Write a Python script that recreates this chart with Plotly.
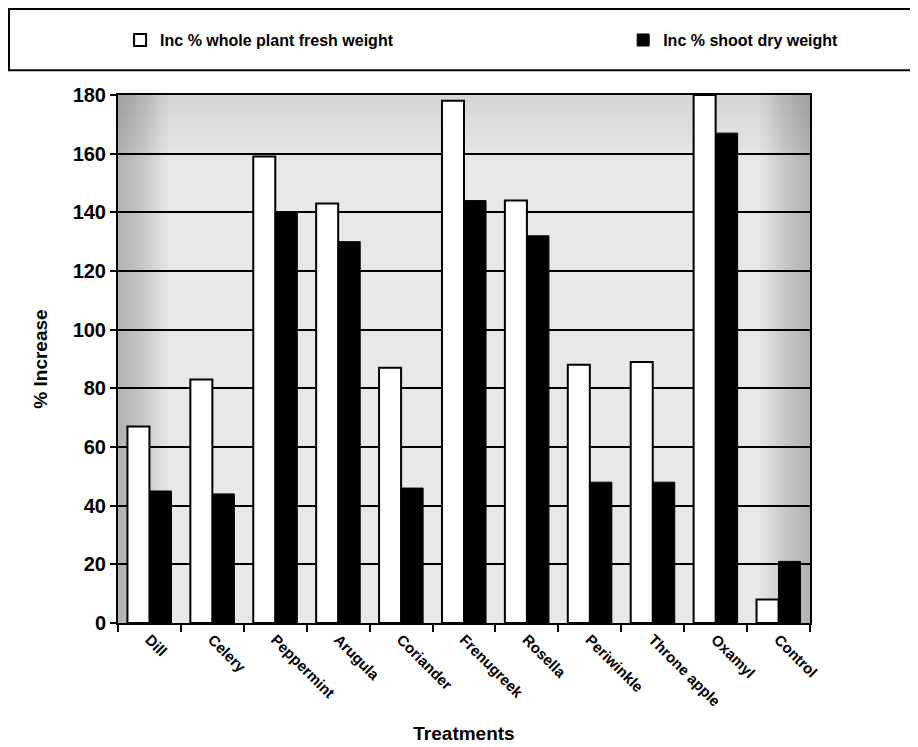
import plotly.graph_objects as go

categories = ["Dill", "Celery", "Peppermint", "Arugula", "Coriander", "Frenugreek",
              "Rosella", "Periwinkle", "Throne apple", "Oxamyl", "Control"]
fresh_weight = [67, 83, 159, 143, 87, 178, 144, 88, 89, 180, 8]
shoot_dry_weight = [45, 44, 140, 130, 46, 144, 132, 48, 48, 167, 21]
y_ticks = [0, 20, 40, 60, 80, 100, 120, 140, 160, 180]

FONT = "Liberation Sans, Arial, sans-serif"

fig = go.Figure()
fig.add_trace(go.Bar(
    x=categories, y=fresh_weight, name="Inc % whole plant fresh weight",
    marker=dict(color="white", line=dict(color="black", width=2)),
    legend="legend",
))
fig.add_trace(go.Bar(
    x=categories, y=shoot_dry_weight, name="Inc % shoot dry weight",
    marker=dict(color="black", line=dict(color="black", width=1)),
    legend="legend2",
))

legend_font = dict(family=FONT, size=16, color="black", weight="bold")

# soft background shading (darker edges of the plot wall)
bg_shapes = []
steps = 12
for i in range(steps):
    w = 0.006 * (steps - i)
    bg_shapes.append(dict(type="rect", xref="paper", yref="paper", layer="below",
                          x0=0, x1=w, y0=0, y1=1,
                          fillcolor="rgba(0,0,0,0.02)", line=dict(width=0)))
    bg_shapes.append(dict(type="rect", xref="paper", yref="paper", layer="below",
                          x0=1 - w, x1=1, y0=0, y1=1,
                          fillcolor="rgba(0,0,0,0.02)", line=dict(width=0)))
for i in range(6):
    bg_shapes.append(dict(type="rect", xref="paper", yref="paper", layer="below",
                          x0=0, x1=1, y0=1 - 0.02 * (6 - i), y1=1,
                          fillcolor="rgba(0,0,0,0.012)", line=dict(width=0)))

fig.update_layout(
    width=910, height=739,
    margin=dict(l=110, r=108, t=87, b=124, autoexpand=False),
    paper_bgcolor="white",
    plot_bgcolor="#e8e8e8",
    barmode="group",
    bargap=0.3,
    bargroupgap=0.0,
    font=dict(family=FONT, color="black", size=14),
    showlegend=True,
    legend=dict(x=0.003, y=1.104, xanchor="left", yanchor="middle",
                font=legend_font, bgcolor="rgba(0,0,0,0)", itemwidth=30),
    legend2=dict(x=0.730, y=1.104, xanchor="left", yanchor="middle",
                 font=legend_font, bgcolor="rgba(0,0,0,0)", itemwidth=30),
    shapes=bg_shapes + [dict(type="rect", xref="paper", yref="paper",
                             x0=-0.1575, x1=1.2, y0=1.047, y1=1.163,
                             line=dict(color="black", width=2),
                             fillcolor="rgba(0,0,0,0)")],
)

fig.update_xaxes(
    type="category",
    tickangle=45,
    ticks="outside", ticklen=7, tickwidth=2, tickcolor="black",
    tickson="boundaries",
    showline=True, linecolor="black", linewidth=2, mirror=True,
    automargin=False,
    tickfont=dict(family=FONT, size=15, color="black", weight="bold"),
    title=dict(text="Treatments", font=dict(family=FONT, size=19, weight="bold"), standoff=18),
)
fig.update_yaxes(
    range=[0, 180],
    tickvals=y_ticks,
    ticks="outside", ticklen=6, tickwidth=2, tickcolor="black",
    showline=True, linecolor="black", linewidth=2, mirror=True,
    automargin=False,
    showgrid=True, gridcolor="black", gridwidth=2,
    zeroline=False,
    tickfont=dict(family=FONT, size=20, color="black", weight="bold"),
    title=dict(text="% Increase", font=dict(family=FONT, size=19, weight="bold"), standoff=20),
)

fig.write_html("out.html")
